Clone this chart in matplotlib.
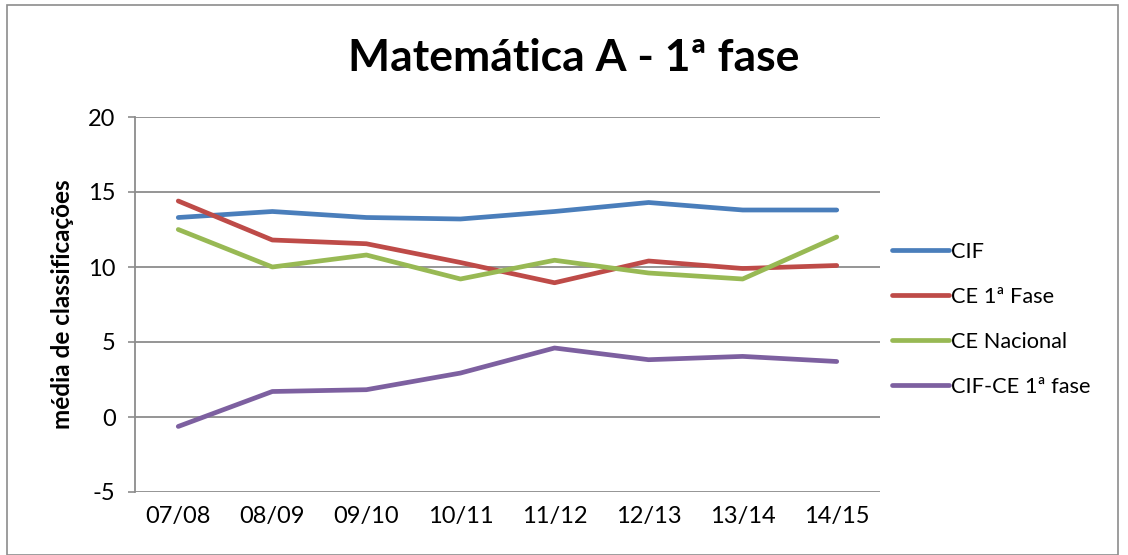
import matplotlib
matplotlib.use("Agg")
import matplotlib.pyplot as plt
from matplotlib.patches import Rectangle

categories = ["07/08", "08/09", "09/10", "10/11", "11/12", "12/13", "13/14", "14/15"]
cif = [13.3, 13.7, 13.3, 13.2, 13.7, 14.3, 13.8, 13.8]
ce_1fase = [14.4, 11.8, 11.55, 10.3, 8.95, 10.4, 9.9, 10.1]
ce_nacional = [12.5, 10.0, 10.8, 9.2, 10.45, 9.6, 9.2, 12.0]
cif_ce = [-0.63, 1.7, 1.82, 2.93, 4.6, 3.82, 4.04, 3.7]
series_names = ["CIF", "CE 1ª Fase", "CE Nacional", "CIF-CE 1ª fase"]
colors = ["#4a7ebb", "#be4b48", "#98b954", "#7d60a0"]
yticks = [-5, 0, 5, 10, 15, 20]

plt.rcParams['font.family'] = ['Lato', 'DejaVu Sans']
plt.rcParams['axes.unicode_minus'] = False

W, H = 1128, 555
fig = plt.figure(figsize=(W / 100, H / 100), dpi=100)
fig.patches.append(Rectangle((7 / W, 0), (1118 - 7) / W, (H - 5) / H,
                             transform=fig.transFigure, fill=False,
                             edgecolor="#8c8c8c", linewidth=1.2))

ax = fig.add_axes([135 / W, (H - 492) / H, (880 - 135) / W, (492 - 117) / H])
x = list(range(len(categories)))
for vals, name, c in zip([cif, ce_1fase, ce_nacional, cif_ce], series_names, colors):
    ax.plot(x, vals, color=c, linewidth=3.4, solid_capstyle="round", label=name)

ax.set_xlim(-0.46, len(categories) - 0.54)
ax.set_ylim(-5, 20)
ax.set_yticks(yticks)
ax.set_xticks(x)
ax.set_xticklabels(categories)
ax.tick_params(axis="y", length=5, width=1.2, color="#8c8c8c", labelsize=17, pad=9)
ax.tick_params(axis="x", length=0, labelsize=17, pad=10)
ax.grid(axis="y", color="#8c8c8c", linewidth=1.3)
ax.set_axisbelow(True)
for s in ["top", "right", "bottom"]:
    ax.spines[s].set_visible(False)
ax.spines["left"].set_color("#8c8c8c")
ax.spines["left"].set_linewidth(1.3)

ax.set_ylabel("média de classificações", fontsize=17.5, fontweight="bold", labelpad=10)
fig.text(574 / W, 1 - 58 / H, "Matemática A - 1ª fase", ha="center", va="center",
         fontsize=32, fontweight="bold")

leg = ax.legend(loc="center left", bbox_to_anchor=(0.99, 0.5 - 0.04), frameon=False,
                fontsize=15.7, handlelength=2.6, handletextpad=0.1, labelspacing=1.15)

fig.savefig("out.png", dpi=100)
